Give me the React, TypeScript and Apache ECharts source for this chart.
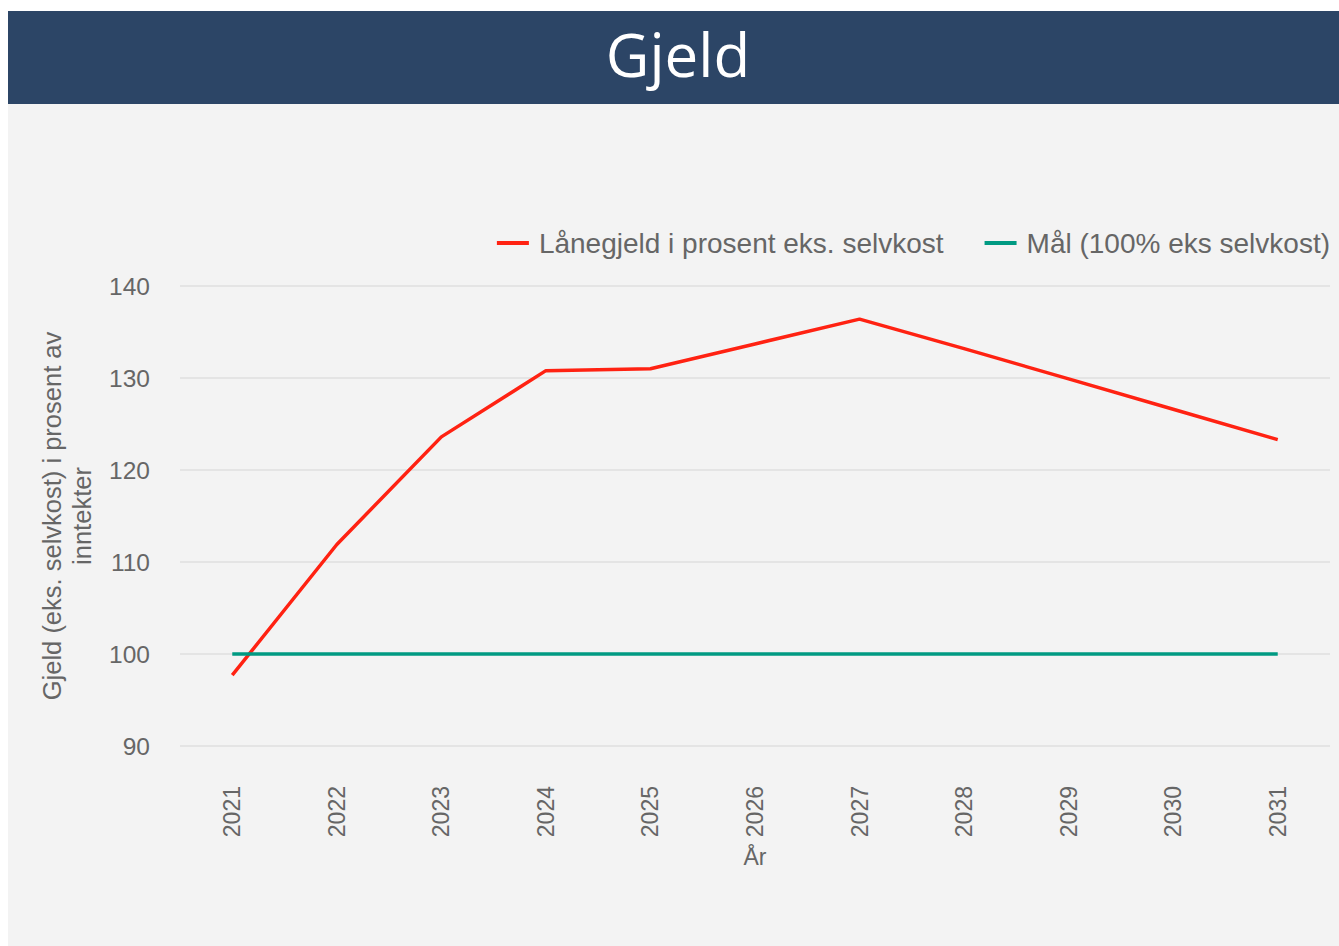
import React, { useEffect, useRef } from "react";
import * as echarts from "echarts";

const years = ["2021", "2022", "2023", "2024", "2025", "2026", "2027", "2028", "2029", "2030", "2031"];
const loanDebt = [97.7, 111.9, 123.6, 130.8, 131.0, 133.7, 136.4, 133.2, 129.9, 126.6, 123.3];
const target = [100, 100, 100, 100, 100, 100, 100, 100, 100, 100, 100];
const seriesNames = ["Lånegjeld i prosent eks. selvkost", "Mål (100% eks selvkost)"];
const titleText = "Gjeld";
const yAxisName = "Gjeld (eks. selvkost) i prosent av\ninntekter";
const xAxisName = "År";

const W = 1331;
const H = 935;

export default function App() {
  const ref = useRef<HTMLDivElement>(null);
  useEffect(() => {
    if (!ref.current) return;
    const chart = echarts.init(ref.current, null, { renderer: "svg" });
    const font = "'Liberation Sans', Arial, sans-serif";
    chart.setOption({
      animation: false,
      backgroundColor: "#f3f3f3",
      graphic: [
        { type: "rect", left: 0, top: 0, shape: { x: 0, y: 0, width: W, height: 93 }, style: { fill: "#2c4566" }, z: 0 },
      ],
      title: {
        text: titleText,
        left: 665,
        textAlign: "center",
        top: 8,
        textStyle: { color: "#ffffff", fontSize: 60, fontWeight: "normal", fontFamily: "'Open Sans', sans-serif" },
      },
      legend: {
        data: seriesNames,
        right: W - 1327,
        top: 213,
        icon: "rect",
        itemWidth: 32,
        itemHeight: 4,
        itemGap: 41,
        textStyle: { color: "#666666", fontSize: 28, fontFamily: font, padding: [0, 0, 0, 5] },
      },
      grid: { left: 172, right: W - 1322, top: 275, bottom: 200, containLabel: false },
      xAxis: {
        type: "category",
        data: years,
        boundaryGap: true,
        name: xAxisName,
        nameLocation: "middle",
        nameGap: 99,
        nameTextStyle: { color: "#666666", fontSize: 23, fontFamily: font },
        axisLine: { show: false },
        axisTick: { show: false },
        axisLabel: { rotate: 90, margin: 40, color: "#666666", fontSize: 23, fontFamily: font },
      },
      yAxis: {
        type: "value",
        min: 90,
        max: 140,
        interval: 10,
        name: yAxisName,
        nameLocation: "middle",
        nameGap: 83,
        nameTextStyle: { color: "#666666", fontSize: 25.5, lineHeight: 30, fontFamily: font, align: "center" },
        axisLine: { show: false },
        axisTick: { show: false },
        axisLabel: { margin: 30, color: "#666666", fontSize: 24.5, fontFamily: font },
        splitLine: { lineStyle: { color: "#e4e4e4", width: 2 } },
      },
      series: [
        {
          name: seriesNames[0],
          type: "line",
          data: loanDebt,
          symbol: "none",
          color: "#ff2212",
          lineStyle: { width: 3.5, color: "#ff2212" },
        },
        {
          name: seriesNames[1],
          type: "line",
          data: target,
          symbol: "none",
          color: "#009a82",
          lineStyle: { width: 3.5, color: "#009a82" },
        },
      ],
    });
    return () => chart.dispose();
  }, []);
  return (
    <div style={{ position: "fixed", left: 8, top: 11, width: W, height: H, overflow: "hidden" }}>
      <div ref={ref} style={{ width: W, height: H }} />
    </div>
  );
}
